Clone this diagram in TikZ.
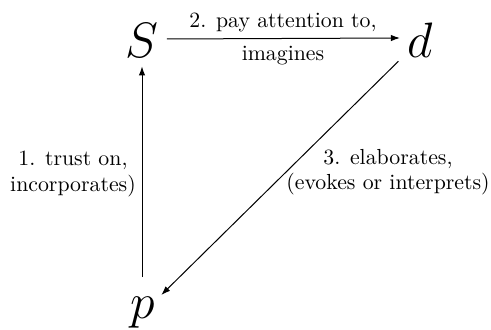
\documentclass[tikz,border=0pt]{standalone}
\usetikzlibrary{arrows.meta}
\begin{document}
\begin{tikzpicture}[x=0.5pt,y=-0.5pt,
  vtx/.style={inner sep=0pt, font=\Huge},
  conn/.style={line width=0.5pt, -{Latex[length=4.5pt,width=3.2pt]}},
  lbl/.style={align=center, font=\fontsize{10.9}{12.6}\selectfont, inner sep=0pt}]
\useasboundingbox (0,0) rectangle (491,330);
\node[vtx] (S) at (142,41) {$S$};
\node[vtx] (d) at (420,40) {$d$};
\node[vtx] (p) at (143,313) {$p$};
\draw[conn] ([xshift=4pt,yshift=1pt]S.east) -- ([xshift=-3.5pt,yshift=1pt]d.west);
\draw[conn] ([yshift=10pt]p.north -| S.south) -- ([yshift=-4pt]S.south);
\draw[conn, shorten <=6pt, shorten >=4pt] (d) -- (p);
\node[lbl] (l2a) at (283,22) {2. pay attention to,};
\node[lbl] (l2b) at (283,56) {imagines};
\node[lbl] (l1) at (73,174) {1. trust on,\\incorporates)};
\node[lbl] (l3) at (388,172) {3. elaborates,\\(evokes or interprets)};
\end{tikzpicture}
\end{document}
